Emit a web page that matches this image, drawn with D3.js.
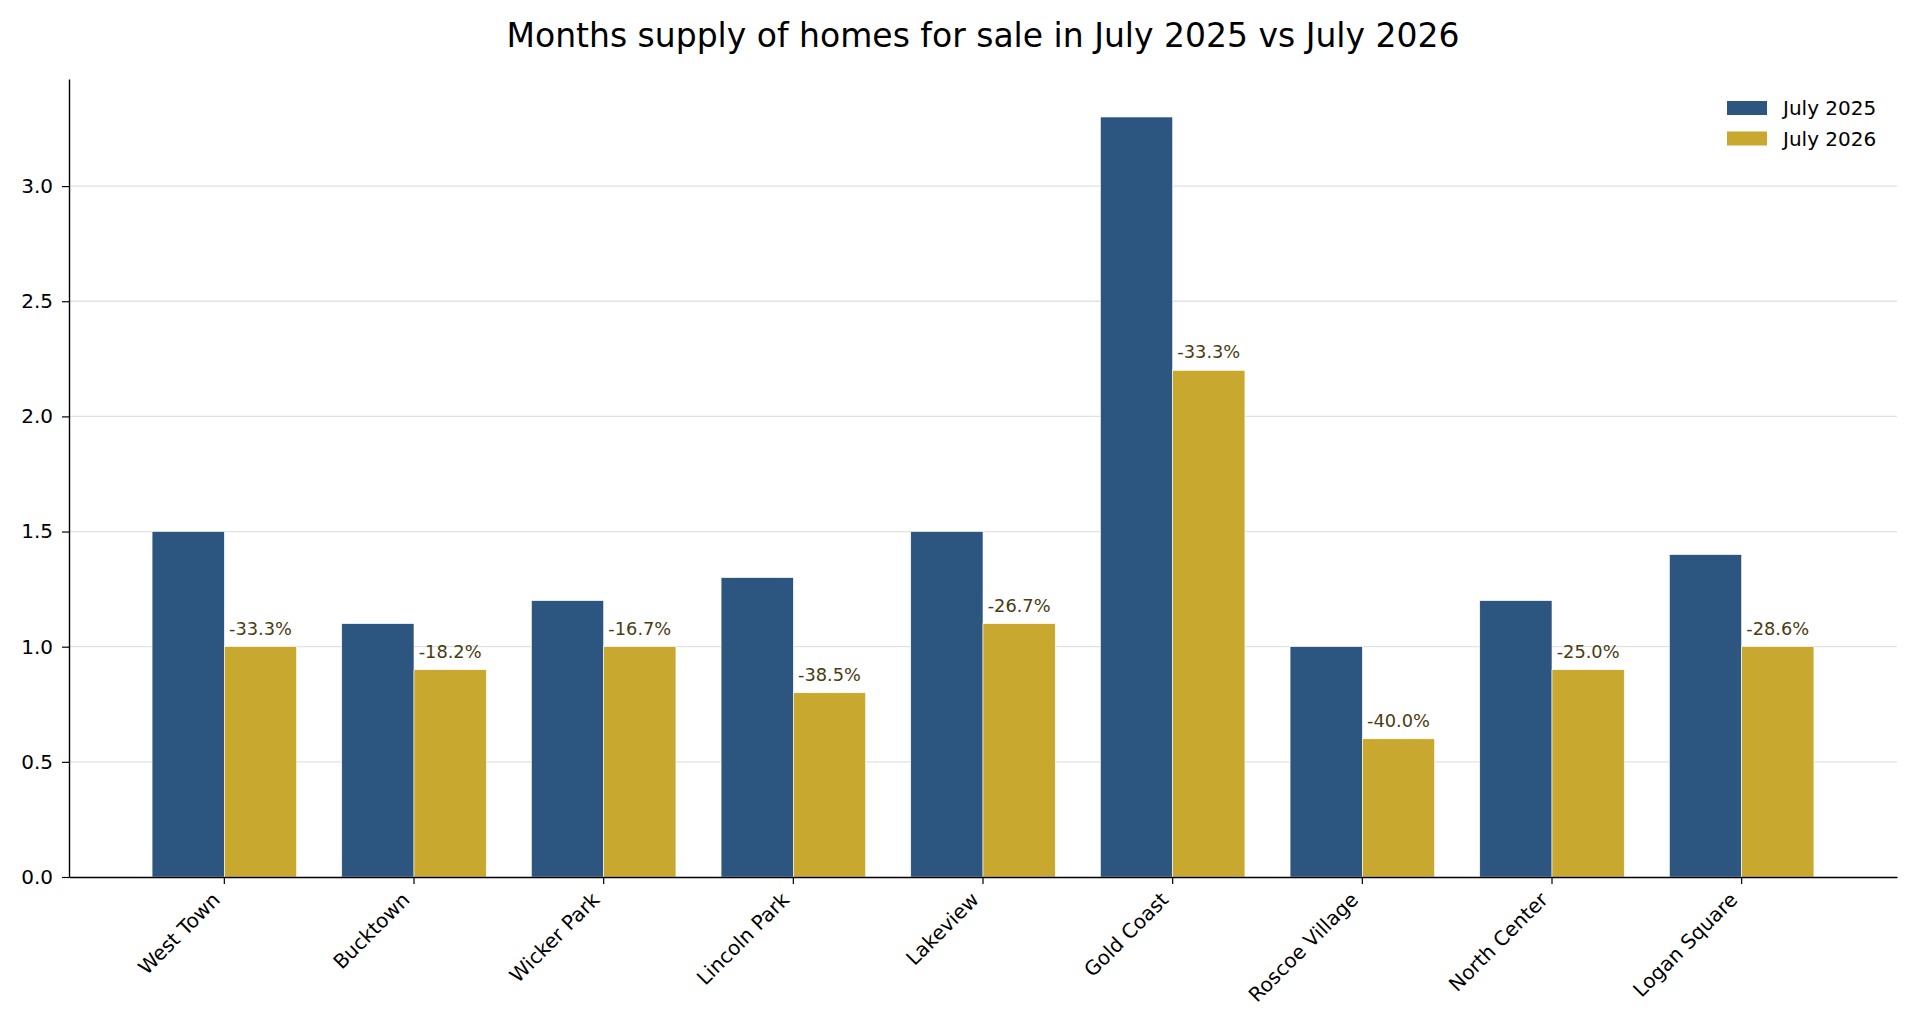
<!DOCTYPE html>
<html>
<head>
<meta charset="utf-8">
<script src="https://cdn.jsdelivr.net/npm/d3@7"></script>
<style>
    html, body { margin: 0; padding: 0; background: #fff; }
    svg { display: block; font-family: 'DejaVu Sans', sans-serif; }
</style>
</head>
<body>
<svg id="chart" width="1920" height="1033"></svg>
<script>
const neighborhoods = ['West Town', 'Bucktown', 'Wicker Park', 'Lincoln Park', 'Lakeview',
    'Gold Coast', 'Roscoe Village', 'North Center', 'Logan Square'];
const supply2025 = [1.5, 1.1, 1.2, 1.3, 1.5, 3.3, 1.0, 1.2, 1.4];
const supply2026 = [1.0, 0.9, 1.0, 0.8, 1.1, 2.2, 0.6, 0.9, 1.0];
const seriesNames = ['July 2025', 'July 2026'];
const yTicks = [0, 0.5, 1.0, 1.5, 2.0, 2.5, 3.0];

(function () {
    let svg = d3.select('#chart'),
        margin = { top: 79, right: 23, bottom: 156, left: 69 },
        width = 1920 - margin.left - margin.right,
        height = 1033 - margin.top - margin.bottom,
        colors = ['#2c5680', '#c8a82e'];

    let x = d3.scaleBand()
        .domain(neighborhoods)
        .range([margin.left, margin.left + width])
        .paddingInner(0.238)
        .paddingOuter(0.438);
    let y = d3.scaleLinear()
        .domain([0, d3.max(supply2025.concat(supply2026)) * 1.05])
        .range([margin.top + height, margin.top]);

    // title
    svg.append('text')
        .attr('x', margin.left + width / 2)
        .attr('y', 47)
        .attr('text-anchor', 'middle')
        .style('font-size', '33px')
        .attr('fill', '#000')
        .text('Months supply of homes for sale in July 2025 vs July 2026');

    // grid
    svg.append('g')
        .selectAll('line')
        .data(yTicks.filter(d => d > 0))
        .enter().append('line')
        .attr('x1', margin.left)
        .attr('x2', margin.left + width)
        .attr('y1', d => y(d))
        .attr('y2', d => y(d))
        .attr('stroke', '#e2e2e2')
        .attr('stroke-width', 1.3);

    let rows = neighborhoods.map((n, i) => ({ name: n, a: supply2025[i], b: supply2026[i] }));
    let half = x.bandwidth() / 2;
    let pct = d => ((d.b - d.a) / d.a * 100).toFixed(1) + '%';

    let group = svg.append('g')
        .selectAll('g')
        .data(rows)
        .enter().append('g');

    group.append('rect')
        .attr('x', d => x(d.name))
        .attr('y', d => y(d.a))
        .attr('width', half)
        .attr('height', d => y(0) - y(d.a))
        .attr('fill', colors[0])
        .attr('stroke', '#fff')
        .attr('stroke-width', 0.6);

    group.append('rect')
        .attr('x', d => x(d.name) + half)
        .attr('y', d => y(d.b))
        .attr('width', half)
        .attr('height', d => y(0) - y(d.b))
        .attr('fill', colors[1])
        .attr('stroke', '#fff')
        .attr('stroke-width', 0.6);

    group.append('text')
        .attr('x', d => x(d.name) + half * 1.5)
        .attr('y', d => y(d.b) - 12)
        .attr('text-anchor', 'middle')
        .style('font-size', '17.8px')
        .attr('fill', '#4a3c12')
        .text(pct);

    // axes
    let xAxis = svg.append('g')
        .attr('transform', `translate(0,${y(0)})`)
        .call(d3.axisBottom(x).tickSize(7).tickSizeOuter(0));
    xAxis.select('.domain').attr('stroke', '#000').attr('stroke-width', 1.4);
    xAxis.selectAll('.tick line').attr('stroke', '#000').attr('stroke-width', 1.2);
    xAxis.selectAll('.tick text')
        .attr('x', 0).attr('y', 0).attr('dy', 0)
        .attr('transform', 'translate(-3,24) rotate(-45)')
        .attr('text-anchor', 'end')
        .attr('fill', '#000')
        .style('font-size', '20px')
        .style('font-family', "'DejaVu Sans', sans-serif");

    let yAxis = svg.append('g')
        .attr('transform', `translate(${margin.left},0)`)
        .call(d3.axisLeft(y).tickValues(yTicks).tickFormat(d3.format('.1f'))
            .tickSize(7).tickPadding(9).tickSizeOuter(0));
    yAxis.select('.domain').attr('stroke', '#000').attr('stroke-width', 1.4);
    yAxis.selectAll('.tick line').attr('stroke', '#000').attr('stroke-width', 1.2);
    yAxis.selectAll('.tick text')
        .attr('fill', '#000')
        .style('font-size', '20px')
        .style('font-family', "'DejaVu Sans', sans-serif");

    // legend
    let legend = svg.append('g')
        .selectAll('g')
        .data(seriesNames)
        .enter().append('g')
        .attr('transform', (d, i) => `translate(1727,${101 + i * 30.5})`);
    legend.append('rect')
        .attr('width', 40)
        .attr('height', 14)
        .attr('fill', (d, i) => colors[i]);
    legend.append('text')
        .attr('x', 56)
        .attr('y', 14)
        .style('font-size', '20px')
        .attr('fill', '#000')
        .text(d => d);
}());
</script>
</body>
</html>
